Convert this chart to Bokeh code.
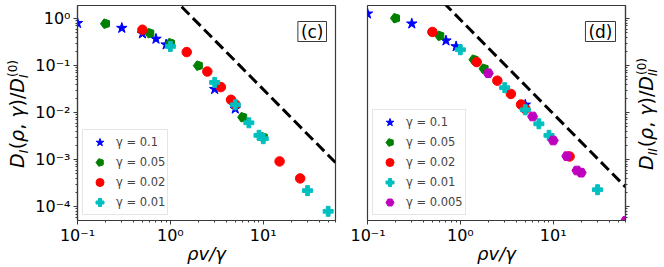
import math
from bokeh.plotting import figure
from bokeh.layouts import row
from bokeh.models import (Range1d, FixedTicker, CustomJSTickFormatter, Label,
                          Legend, LegendItem, Div)
from bokeh.embed import file_html
from bokeh.resources import INLINE

# ---------------- data: panel (c) ----------------
c_x_g01 = [0.1, 0.3, 0.5, 0.7, 0.9, 3.0, 5.0]
c_y_g01 = [0.80, 0.63, 0.48, 0.37, 0.28, 0.0316, 0.0121]
c_x_g005 = [0.2, 0.6, 1.0, 2.0, 6.0, 10.0]
c_y_g005 = [0.78, 0.49, 0.30, 0.10, 0.0080, 0.0030]
c_x_g002 = [0.5, 1.5, 2.5, 3.5, 4.5, 5.0, 15.0, 25.0]
c_y_g002 = [0.58, 0.194, 0.075, 0.035, 0.0188, 0.015, 0.00092, 0.00040]
c_x_g001 = [1.0, 3.0, 5.0, 7.0, 9.0, 10.0, 30.0, 50.0]
c_y_g001 = [0.256, 0.044, 0.0147, 0.0061, 0.0033, 0.0028, 0.00022, 0.00008]
c_line_x = [1.0, 60.0]
c_line_y = [3.13, 0.00087]

# ---------------- data: panel (d) ----------------
d_x_g01 = [0.1, 0.3, 0.7, 0.9, 5.0]
d_y_g01 = [1.27, 0.78, 0.34, 0.256, 0.0147]
d_x_g005 = [0.2, 0.6, 1.4, 1.8]
d_y_g005 = [1.02, 0.43, 0.134, 0.086]
d_x_g002 = [0.5, 1.5, 2.5, 3.5, 4.5, 5.0, 15.0]
d_y_g002 = [0.52, 0.119, 0.048, 0.025, 0.0149, 0.012, 0.00117]
d_x_g001 = [1.0, 3.0, 5.0, 7.0, 9.0, 30.0]
d_y_g001 = [0.218, 0.034, 0.0115, 0.0058, 0.0033, 0.00023]
d_x_g0005 = [2.0, 6.0, 10.0, 14.0, 18.0, 20.0, 60.0]
d_y_g0005 = [0.069, 0.0083, 0.00256, 0.00119, 0.00059, 0.00053, 0.00005]
d_line_x = [0.5, 60.0]
d_line_y = [3.8, 0.000264]

gamma_labels = ["γ = 0.1", "γ = 0.05", "γ = 0.02", "γ = 0.01", "γ = 0.005"]
x_major = [0.1, 1, 10]
y_major = [0.0001, 0.001, 0.01, 0.1, 1]

X_RANGE = (0.1, 60.0)
Y_RANGE = (5.1e-5, 1.9)

FONT = "DejaVu Sans"
FRAME_COL = "#3a3a3a"
COLORS = ["#0000ff", "#008000", "#ff0000", "#00bfbf", "#bf00bf"]
H = 266          # figure height
MB_TOP = 5       # frame top
FRAME_H = 215    # frame height

x_minor = [m * d for d in (0.1, 1, 10) for m in range(2, 10) if m * d <= 60]
y_minor = [m * d for d in (1e-5, 1e-4, 1e-3, 1e-2, 1e-1, 1) for m in range(2, 10)
           if Y_RANGE[0] <= m * d <= Y_RANGE[1]]

sup_fmt = CustomJSTickFormatter(code="""
const e = Math.round(Math.log10(tick));
const m = {'-':'\u207b','0':'\u2070','1':'\u00b9','2':'\u00b2','3':'\u00b3','4':'\u2074'};
return '10' + String(e).split('').map(c => m[c]).join('');
""")
blank_fmt = CustomJSTickFormatter(code="return '';")


def ylabel_div(sub, baseline_x, center_y, width=32):
    """Rotated (bottom-to-top) axis label D_sub(rho, gamma)/D_sub^(0) as HTML text."""
    line_h = 22.0
    base_from_top = 17.6          # baseline position inside the 22px line box (19px font)
    ox = baseline_x - base_from_top
    span_w = 200
    oy = center_y + span_w / 2
    sub_w = 4 * len(sub)
    small = "font-size:12px; line-height:12px; position:absolute;"
    html = (
        f'<div style="position:relative; width:{width}px; height:{H}px; overflow:visible;">'
        f'<div style="position:absolute; left:{ox:.1f}px; top:{oy:.1f}px; width:{span_w}px; '
        f'height:{line_h}px; transform-origin:0 0; transform:rotate(-90deg); '
        f'text-align:center; white-space:nowrap; font-family:\'{FONT}\'; font-size:19px; '
        f'line-height:{line_h}px; color:black;">'
        f'<i>D</i><span style="position:relative; display:inline-block; width:{sub_w}px; height:8px;">'
        f'<i style="{small} left:0; bottom:-5.9px;">{sub}</i></span>'
        f'(<i>ρ</i>, <i>γ</i>)/<i>D</i>'
        f'<span style="position:relative; display:inline-block; width:{max(sub_w, 18)}px; height:8px;">'
        f'<span style="{small} left:1px; bottom:4.6px;">(0)</span>'
        f'<i style="{small} left:0; bottom:-5.9px;">{sub}</i></span>'
        f'</div></div>')
    return Div(text=html, width=width, height=H, margin=0,
               styles={"overflow": "visible", "padding": "0", "margin": "0"})


def make_fig(width, mbl, mbr, yloc):
    p = figure(width=width, height=H, x_axis_type="log", y_axis_type="log",
               x_range=Range1d(*X_RANGE), y_range=Range1d(*Y_RANGE),
               y_axis_location=yloc, toolbar_location=None, output_backend="svg",
               min_border_left=mbl, min_border_right=mbr, min_border_top=MB_TOP,
               min_border_bottom=H - MB_TOP - FRAME_H, background_fill_color="white",
               border_fill_color="white")
    p.grid.visible = False
    p.outline_line_color = FRAME_COL
    p.outline_line_width = 1.2
    for ax in (p.xaxis[0], p.yaxis[0]):
        ax.axis_line_color = FRAME_COL
        ax.axis_line_width = 1.2
        ax.major_tick_line_color = FRAME_COL
        ax.minor_tick_line_color = FRAME_COL
        ax.major_tick_in = 0
        ax.major_tick_out = 4
        ax.minor_tick_in = 0
        ax.minor_tick_out = 2
        ax.major_label_text_font = FONT
        ax.major_label_text_font_size = "16px"
        ax.major_label_text_color = "black"
    p.xaxis.ticker = FixedTicker(ticks=x_major, minor_ticks=x_minor)
    p.yaxis.ticker = FixedTicker(ticks=y_major, minor_ticks=y_minor)
    p.xaxis.formatter = sup_fmt
    p.xaxis.major_label_standoff = 1
    p.xaxis.axis_label = "ρv/γ"
    p.xaxis.axis_label_text_font = FONT
    p.xaxis.axis_label_text_font_style = "italic"
    p.xaxis.axis_label_text_font_size = "18px"
    p.xaxis.axis_label_text_color = "black"
    p.xaxis.axis_label_standoff = -5
    p.yaxis.major_label_standoff = 3
    return p


def pentagons(p, xs, ys, color):
    try:
        return p.ngon(x=xs, y=ys, radius=5, radius_units="screen", n=5,
                      angle=math.pi / 2, fill_color=color, line_color=color)
    except Exception:
        return p.scatter(xs, ys, marker="hex", size=9, fill_color=color, line_color=color)


def add_series(p, sets, line_x, line_y):
    rs = []
    (x1, y1), (x2, y2), (x3, y3), (x4, y4) = sets[:4]
    rs.append(p.scatter(x1, y1, marker="star", size=11, color=COLORS[0]))
    rs.append(pentagons(p, x2, y2, COLORS[1]))
    rs.append(p.scatter(x3, y3, marker="circle", size=9.5, color=COLORS[2]))
    rs.append(p.scatter(x4, y4, marker="plus", size=10, color=COLORS[3]))
    if len(sets) > 4:
        x5, y5 = sets[4]
        rs.append(p.scatter(x5, y5, marker="hex", size=10, color=COLORS[4]))
    p.line(line_x, line_y, line_color="black", line_width=3, line_dash="11 5")
    items = [LegendItem(label=gamma_labels[i], renderers=[r]) for i, r in enumerate(rs)]
    leg = Legend(items=items, location="bottom_left", margin=5, padding=2,
                 spacing=-3, glyph_height=20, glyph_width=29, label_height=12,
                 label_standoff=2, label_text_font=FONT, label_text_font_size="11.5px",
                 border_line_color="#cccccc", border_line_width=1,
                 background_fill_color="white", background_fill_alpha=0.85)
    p.add_layout(leg)


def add_tag(p, text, x_anchor):
    p.add_layout(Label(x=x_anchor, y=FRAME_H - 16, x_units="screen", y_units="screen",
                       text=text, text_font=FONT, text_font_size="17px",
                       text_align="right", text_baseline="top", text_color="black",
                       border_line_color=FRAME_COL, border_line_width=1,
                       background_fill_color="white",
                       padding=dict(left=3, right=3, top=0, bottom=0)))


CENTER_Y = 113.5

# ---- left label column
lab_l = ylabel_div("I", 24, CENTER_Y)

# ---- left panel (c)
p1 = make_fig(318, 43, 15, "left")
p1.yaxis.formatter = sup_fmt
add_series(p1, [(c_x_g01, c_y_g01), (c_x_g005, c_y_g005), (c_x_g002, c_y_g002),
                (c_x_g001, c_y_g001)], c_line_x, c_line_y)
add_tag(p1, "(c)", 260 - 8 - 3)

# ---- right panel (d)
p2 = make_fig(282, 17, 7, "right")
p2.yaxis.formatter = blank_fmt
p2.yaxis.major_label_standoff = 0
add_series(p2, [(d_x_g01, d_y_g01), (d_x_g005, d_y_g005), (d_x_g002, d_y_g002),
                (d_x_g001, d_y_g001), (d_x_g0005, d_y_g0005)], d_line_x, d_line_y)
add_tag(p2, "(d)", 258 - 7 - 3)

# ---- right label column
lab_r = ylabel_div("II", 21, CENTER_Y)

layout = row(lab_l, p1, p2, lab_r)
open("out.html", "w").write(file_html(layout, INLINE))
